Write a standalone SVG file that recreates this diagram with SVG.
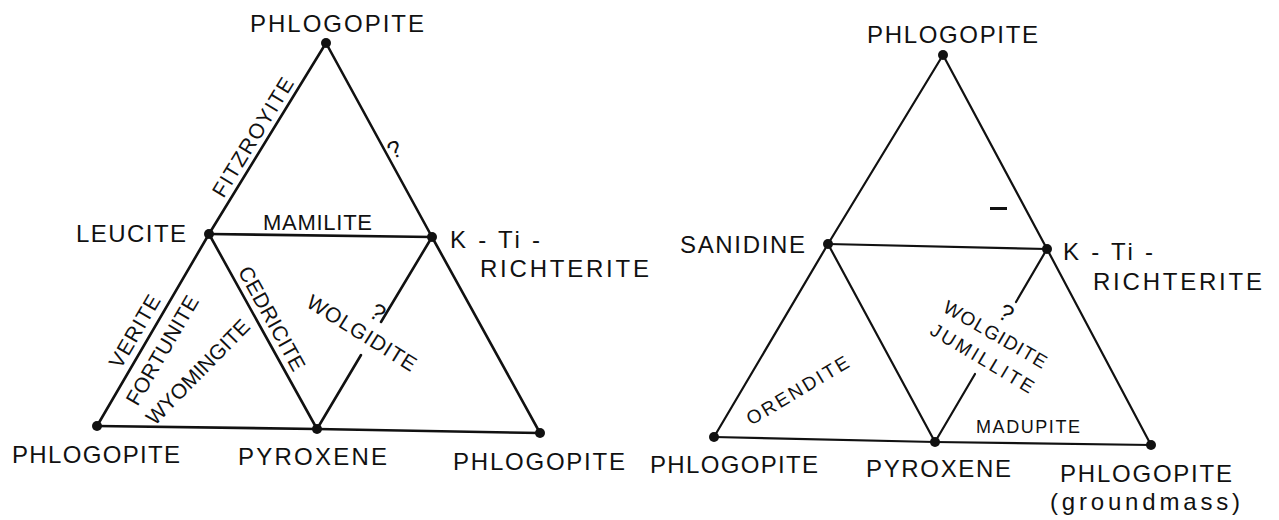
<svg xmlns="http://www.w3.org/2000/svg" width="1279" height="520" viewBox="0 0 1279 520">
<style>
text{font-family:"Liberation Sans","DejaVu Sans",Arial,sans-serif;fill:#111;}
.lbl{font-size:24px;}
.el{font-size:21px;}
.sm{font-size:19px;}
.q{font-size:24px;}
.ln{stroke:#111;stroke-width:2.6;fill:none;stroke-linecap:round;}
.ln2{stroke:#111;stroke-width:2.2;fill:none;stroke-linecap:round;}
.dot{fill:#111;}
</style>
<rect width="1279" height="520" fill="#fff"/>
<g id="connectors">
  <line class="ln" x1="326" y1="43" x2="209" y2="234"/>
  <line class="ln" x1="209" y1="234" x2="97" y2="426"/>
  <line class="ln" x1="326" y1="43" x2="432" y2="237"/>
  <line class="ln" x1="432" y1="237" x2="540" y2="433"/>
  <line class="ln" x1="209" y1="234" x2="432" y2="237"/>
  <line class="ln" x1="209" y1="234" x2="317" y2="429"/>
  <line class="ln" x1="97" y1="426" x2="317" y2="429"/>
  <line class="ln" x1="317" y1="429" x2="540" y2="433"/>
  <line class="ln" x1="432" y1="237" x2="381" y2="322"/>
  <line class="ln" x1="361" y1="355" x2="317" y2="429"/>
  <line class="ln2" x1="943" y1="55" x2="828" y2="244"/>
  <line class="ln2" x1="828" y1="244" x2="714" y2="437"/>
  <line class="ln2" x1="943" y1="55" x2="1047" y2="249"/>
  <line class="ln2" x1="1047" y1="249" x2="1151" y2="445"/>
  <line class="ln2" x1="828" y1="244" x2="1047" y2="249"/>
  <line class="ln2" x1="828" y1="244" x2="935" y2="442"/>
  <line class="ln2" x1="714" y1="437" x2="935" y2="442"/>
  <line class="ln2" x1="935" y1="442" x2="1151" y2="445"/>
  <line class="ln2" x1="1047" y1="249" x2="1016" y2="302"/>
  <line class="ln2" x1="975" y1="374" x2="935" y2="442"/>
</g>
<g id="left-top"><circle class="dot" cx="326" cy="43" r="5"/><text class="lbl" x="250" y="32" textLength="174" lengthAdjust="spacing">PHLOGOPITE</text></g>
<g id="left-leucite"><circle class="dot" cx="209" cy="234" r="5"/><text class="lbl" x="76" y="242" textLength="110" lengthAdjust="spacing">LEUCITE</text></g>
<g id="left-ktirichterite"><circle class="dot" cx="432" cy="237" r="5"/><text class="lbl" x="450" y="248" textLength="90" lengthAdjust="spacing">K - Ti -</text><text class="lbl" x="480" y="277" textLength="169" lengthAdjust="spacing">RICHTERITE</text></g>
<g id="left-phlogopite-bl"><circle class="dot" cx="97" cy="426" r="5"/><text class="lbl" x="12" y="463" textLength="168" lengthAdjust="spacing">PHLOGOPITE</text></g>
<g id="left-pyroxene"><circle class="dot" cx="317" cy="429" r="5"/><text class="lbl" x="238" y="465" textLength="149" lengthAdjust="spacing">PYROXENE</text></g>
<g id="left-phlogopite-br"><circle class="dot" cx="540" cy="433" r="5"/><text class="lbl" x="453" y="470" textLength="172" lengthAdjust="spacing">PHLOGOPITE</text></g>
<g id="right-top"><circle class="dot" cx="943" cy="55" r="5"/><text class="lbl" x="867" y="43" textLength="171" lengthAdjust="spacing">PHLOGOPITE</text></g>
<g id="right-sanidine"><circle class="dot" cx="828" cy="244" r="5"/><text class="lbl" x="680" y="253" textLength="125" lengthAdjust="spacing">SANIDINE</text></g>
<g id="right-ktirichterite"><circle class="dot" cx="1047" cy="249" r="5"/><text class="lbl" x="1063" y="260" textLength="90" lengthAdjust="spacing">K - Ti -</text><text class="lbl" x="1093" y="290" textLength="169" lengthAdjust="spacing">RICHTERITE</text></g>
<g id="right-phlogopite-bl"><circle class="dot" cx="714" cy="437" r="5"/><text class="lbl" x="650" y="473" textLength="168" lengthAdjust="spacing">PHLOGOPITE</text></g>
<g id="right-pyroxene"><circle class="dot" cx="935" cy="442" r="5"/><text class="lbl" x="866" y="477" textLength="145" lengthAdjust="spacing">PYROXENE</text></g>
<g id="right-phlogopite-br"><circle class="dot" cx="1151" cy="445" r="5"/><text class="lbl" x="1060" y="482" textLength="172" lengthAdjust="spacing">PHLOGOPITE</text><text class="lbl" x="1050" y="510" textLength="190" lengthAdjust="spacing">(groundmass)</text></g>
<g id="edge-labels">
  <text class="el" text-anchor="middle" transform="translate(259,141) rotate(-58.5)" textLength="136" lengthAdjust="spacing">FITZROYITE</text>
  <text class="q" text-anchor="middle" transform="translate(398,157) rotate(-25)">?</text>
  <text class="el" x="263" y="230" style="font-size:22px" textLength="109" lengthAdjust="spacing">MAMILITE</text>
  <text class="el" text-anchor="middle" transform="translate(141,335) rotate(-59.7)" textLength="81" lengthAdjust="spacing">VERITE</text>
  <text class="el" text-anchor="middle" transform="translate(168.5,354) rotate(-59.7)" textLength="123" lengthAdjust="spacing">FORTUNITE</text>
  <text class="el" text-anchor="middle" transform="translate(203,377) rotate(-45.5)" textLength="138" lengthAdjust="spacing">WYOMINGITE</text>
  <text class="el" text-anchor="middle" transform="translate(265.5,322) rotate(61)" textLength="116" lengthAdjust="spacing">CEDRICITE</text>
  <text class="el" text-anchor="middle" transform="translate(358,339) rotate(32)" textLength="125" lengthAdjust="spacing">WOLGIDITE</text>
  <text class="q" text-anchor="middle" transform="translate(373,319) rotate(35)">?</text>
  <text class="sm" text-anchor="middle" transform="translate(801,396) rotate(-31)" textLength="116" lengthAdjust="spacing">ORENDITE</text>
  <text class="sm" text-anchor="middle" transform="translate(992,340) rotate(30)" textLength="116" lengthAdjust="spacing">WOLGIDITE</text>
  <text class="sm" text-anchor="middle" transform="translate(979,364) rotate(31)" textLength="117" lengthAdjust="spacing">JUMILLITE</text>
  <text class="q" text-anchor="middle" transform="translate(1002,320) rotate(30)">?</text>
  <text x="976" y="433" style="font-size:18px" textLength="104" lengthAdjust="spacing">MADUPITE</text>
  <line x1="990" y1="208.5" x2="1007" y2="208.5" stroke="#111" stroke-width="3"/>
</g>
</svg>
